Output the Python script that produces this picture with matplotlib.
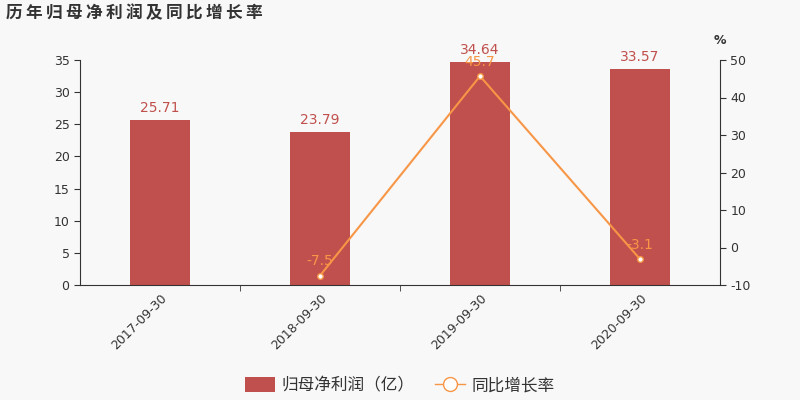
import matplotlib.pyplot as plt
import numpy as np
from matplotlib.patches import Patch
from matplotlib.lines import Line2D

plt.rcParams['font.family'] = ['DejaVu Sans', 'Noto Sans CJK SC']
plt.rcParams['axes.unicode_minus'] = False

dates = ["2017-09-30", "2018-09-30", "2019-09-30", "2020-09-30"]
profit = [25.71, 23.79, 34.64, 33.57]
growth = [None, -7.5, 45.7, -3.1]

bar_color = "#c0504d"
line_color = "#f79646"
bg = "#f8f8f8"
txt = "#333333"

fig = plt.figure(figsize=(8, 4), dpi=100, facecolor=bg)
ax = fig.add_axes([0.1, 0.2875, 0.8, 0.5625], facecolor=bg)
x = np.arange(len(dates))
ax.bar(x, profit, width=0.375, color=bar_color, zorder=2)
for xi, v in zip(x, profit):
    ax.text(xi, v + 0.8, f"{v:.2f}", ha="center", va="bottom", color=bar_color, fontsize=10)
ax.set_xlim(-0.5, len(dates) - 0.5)
ax.set_ylim(0, 35)
ax.set_yticks(range(0, 36, 5))
ax.set_xticks(x)
ax.set_xticklabels(dates, rotation=45, ha="right", rotation_mode="anchor", fontsize=9, color=txt)
ax.set_xticks(np.arange(0.5, len(dates) - 1, 1), minor=True)
ax.tick_params(axis="x", which="major", length=0, pad=5)
ax.tick_params(axis="x", which="minor", length=4, color=txt)
ax.tick_params(axis="y", labelsize=9, colors=txt, length=4)
for s in ["top", "right"]:
    ax.spines[s].set_visible(False)
ax.spines["left"].set_color(txt)
ax.spines["bottom"].set_color(txt)

ax2 = ax.twinx()
gx = [xi for xi, g in zip(x, growth) if g is not None]
gy = [g for g in growth if g is not None]
ax2.plot(gx, gy, color=line_color, lw=1.5, marker="o", markersize=4,
         markerfacecolor="white", markeredgecolor=line_color, zorder=3)
for xi, g in zip(gx, gy):
    ax2.text(xi, g + 2, f"{g}", ha="center", va="bottom", color=line_color, fontsize=10)
ax2.set_ylim(-10, 50)
ax2.set_yticks(range(-10, 51, 10))
ax2.tick_params(axis="y", labelsize=9, colors=txt, length=4)
for s in ["top", "left", "bottom"]:
    ax2.spines[s].set_visible(False)
ax2.spines["right"].set_color(txt)
ax2.text(1.0, 1.06, "%", transform=ax2.transAxes, ha="center", va="bottom", fontsize=9,
         color=txt, fontweight="bold")

fig.text(0.007, 0.967, "\u2009".join("历年归母净利润及同比增长率"), ha="left", va="center",
         fontsize=12, fontweight="bold", color=txt)

handles = [
    Patch(facecolor=bar_color, label="归母净利润（亿）"),
    Line2D([0], [0], color=line_color, lw=1, marker="o", markersize=10,
           markerfacecolor="white", markeredgecolor=line_color, label="同比增长率"),
]
fig.legend(handles=handles, loc="center", bbox_to_anchor=(0.5, 0.037), ncol=2,
           frameon=False, fontsize=12, handlelength=1.8, handleheight=1.0,
           handletextpad=0.4, columnspacing=1.2, labelcolor=txt)

fig.savefig("out.png", dpi=100, facecolor=bg)
